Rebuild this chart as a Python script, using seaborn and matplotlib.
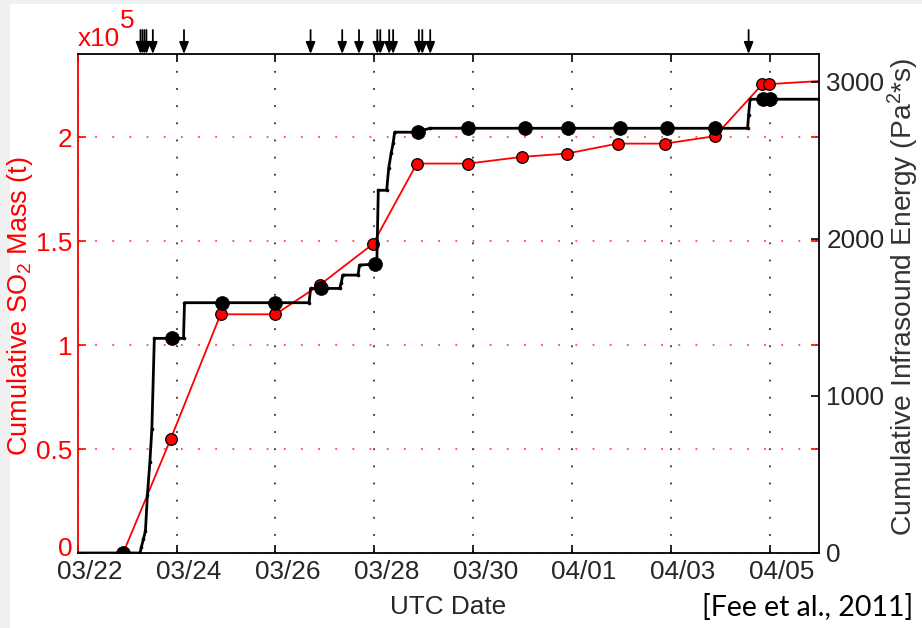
import matplotlib
matplotlib.use("Agg")
import matplotlib.pyplot as plt
import matplotlib.transforms as mtransforms
from matplotlib.patches import Rectangle
import pandas as pd
import seaborn as sns

# ---- data (time axis: days since 2009-03-22 00:00 UTC) ----
date_ticks = [0, 2, 4, 6, 8, 10, 12, 14]
date_labels = ["03/22", "03/24", "03/26", "03/28", "03/30", "04/01", "04/03", "04/05"]

# cumulative SO2 mass, in units of 1e5 t (satellite overpasses)
so2_days = [0.92, 1.88, 2.89, 4.00, 4.90, 5.97, 6.86, 7.90, 8.98, 9.89, 10.92, 11.88, 12.89, 13.85, 13.98]
so2_mass = [0.0, 0.548, 1.148, 1.148, 1.29, 1.486, 1.873, 1.873, 1.905, 1.921, 1.969, 1.969, 2.005, 2.255, 2.255]
so2_end_day = 15.0
so2_end_mass = 2.27

# cumulative infrasound energy trace (Pa^2*s)
ir_trace_days = [0.0, 1.26, 1.29, 1.33, 1.37, 1.41, 1.46, 1.50, 1.55, 2.14, 2.16, 4.68, 4.71,
                 5.30, 5.33, 5.36, 5.67, 5.70, 6.05, 6.08, 6.25, 6.29, 6.34, 6.38, 6.41,
                 6.90, 6.97, 7.13, 13.55, 13.57, 13.60, 15.0]
ir_trace_energy = [0, 0, 40, 90, 140, 370, 580, 790, 1367, 1367, 1594, 1594, 1685,
                   1685, 1720, 1770, 1770, 1834, 1840, 2310, 2310, 2450, 2546, 2610, 2680,
                   2680, 2692, 2705, 2705, 2791, 2890, 2890]

# infrasound energy sampled at the SO2 overpass times
ir_days = [0.92, 1.90, 2.92, 4.00, 4.92, 6.01, 6.88, 7.90, 9.04, 9.91, 10.96, 11.91, 12.90, 13.87, 14.00]
ir_energy = [0, 1367, 1594, 1594, 1685, 1840, 2680, 2705, 2705, 2705, 2705, 2705, 2709, 2890, 2890]

# explosive events
event_days = [1.27, 1.31, 1.35, 1.39, 1.52, 2.15, 4.71, 5.35, 5.69, 6.06, 6.12,
              6.30, 6.38, 6.90, 6.97, 7.13, 13.57]

so2_yticks = [0, 0.5, 1, 1.5, 2]
so2_ylabels = ["0", "0.5", "1", "1.5", "2"]
ir_yticks = [0, 1000, 2000, 3000]

# ---- style ----
sns.set_theme(style="white")
plt.rcParams["font.family"] = ["Liberation Sans", "DejaVu Sans"]
plt.rcParams["mathtext.fontset"] = "custom"
plt.rcParams["mathtext.rm"] = "Liberation Sans"
plt.rcParams["mathtext.it"] = "Liberation Sans:italic"

RED = "#ff0000"
TXT = "#262626"
FS = 18.8
FS_LAB = 19.5
DOT = (0, (1, 8.5))

fig = plt.figure(figsize=(9.22, 6.28), dpi=100)
fig.patch.set_facecolor("white")
# light slide margin on the top and left edges
fig.add_artist(Rectangle((0, 1 - 4 / 628), 1, 4 / 628, transform=fig.transFigure,
                         color="#f0f0f0", lw=0, zorder=-10))
fig.add_artist(Rectangle((0, 0), 10 / 922, 1, transform=fig.transFigure,
                         color="#f0f0f0", lw=0, zorder=-10))

W, H = 922, 628
x0, x1, y0, y1 = 77.7, 819.3, 54, 553
ax = fig.add_axes([x0 / W, 1 - y1 / H, (x1 - x0) / W, (y1 - y0) / H])
ax2 = ax.twinx()

# SO2 (left axis)
so2_line = pd.DataFrame({"day": so2_days + [so2_end_day], "mass": so2_mass + [so2_end_mass]})
so2_pts = pd.DataFrame({"day": so2_days, "mass": so2_mass})
sns.lineplot(data=so2_line, x="day", y="mass", ax=ax, color=RED, lw=1.3,
             sort=False, estimator=None, zorder=3)
sns.scatterplot(data=so2_pts, x="day", y="mass", ax=ax, color=RED, edgecolor="black",
                linewidth=0.9, s=70, zorder=4)

# infrasound (right axis)
ir_line = pd.DataFrame({"day": ir_trace_days, "energy": ir_trace_energy})
ir_pts = pd.DataFrame({"day": ir_days, "energy": ir_energy})
sns.lineplot(data=ir_line, x="day", y="energy", ax=ax2, color="black", lw=2.0,
             marker="o", markersize=2.6, markeredgewidth=0, sort=False, estimator=None, zorder=3)
sns.scatterplot(data=ir_pts, x="day", y="energy", ax=ax2, color="black", edgecolor="black",
                linewidth=0.5, s=100, zorder=4)

# axes limits and ticks
ax.set_xlim(0, 15)
ax.set_ylim(0, 2.4)
ax2.set_ylim(0, 3178)
ax.set_xticks(date_ticks)
ax.set_xticklabels(date_labels)
ax.set_yticks(so2_yticks)
ax.set_yticklabels(so2_ylabels)
ax2.set_yticks(ir_yticks)
ax2.set_yticklabels([str(v) for v in ir_yticks])

ax.tick_params(axis="x", direction="in", length=6, width=1.2, top=True, bottom=True,
               color="black", labelcolor=TXT, labelsize=FS, pad=5)
ax.tick_params(axis="y", direction="in", length=6, width=1.2, left=True, right=True,
               color=RED, labelcolor=RED, labelsize=FS, pad=4)
ax2.tick_params(axis="y", direction="in", length=6, width=1.2, right=True, left=False,
                color="black", labelcolor=TXT, labelsize=FS, pad=5)

# shift date labels slightly right of their ticks, and lift the zero of the SO2 axis
shift = mtransforms.ScaledTranslation(0.12, 0, fig.dpi_scale_trans)
for lab in ax.get_xticklabels():
    lab.set_transform(lab.get_transform() + shift)
lift = mtransforms.ScaledTranslation(0, 0.06, fig.dpi_scale_trans)
ax.get_yticklabels()[0].set_transform(ax.get_yticklabels()[0].get_transform() + lift)

# grids: dotted black verticals, dotted red horizontals
ax.grid(False)
ax2.grid(False)
ax.xaxis.grid(True, color="#333333", linestyle=DOT, lw=1.3)
ax.yaxis.grid(True, color=RED, alpha=0.7, linestyle=DOT, lw=1.3)
ax.set_axisbelow(True)

# spines
for s in ["top", "bottom"]:
    ax.spines[s].set_color("black")
    ax.spines[s].set_linewidth(1.3)
ax.spines["left"].set_color(RED)
ax.spines["left"].set_linewidth(1.3)
ax.spines["right"].set_visible(False)
for s in ["top", "bottom", "left"]:
    ax2.spines[s].set_visible(False)
ax2.spines["right"].set_color("black")
ax2.spines["right"].set_linewidth(1.3)

# labels
ax.set_xlabel("UTC Date", fontsize=FS, color=TXT)
ax.xaxis.label.set_va("center")
ax.xaxis.set_label_coords(0.5, (y1 - 607) / (y1 - y0))
ax.set_ylabel(r"Cumulative SO$_2$ Mass (t)", fontsize=FS_LAB, color=RED)
ax.yaxis.label.set_va("center")
ax.yaxis.set_label_coords((20 - x0) / (x1 - x0), (y1 - 306) / (y1 - y0))
ax2.set_ylabel(r"Cumulative Infrasound Energy (Pa$^2$*s)", fontsize=FS_LAB + 0.8, color="#333333")
ax2.yaxis.label.set_va("center")
ax2.yaxis.set_label_coords((903 - x0) / (x1 - x0), (y1 - 297) / (y1 - y0))

# scale factor of the left axis
fig.text(78 / W, 1 - 46 / H, "x10", color=RED, fontsize=FS, ha="left", va="baseline")
fig.text(120 / W, 1 - 28 / H, "5", color=RED, fontsize=FS, ha="left", va="baseline")

# event arrows above the top axis
for d in event_days:
    ax.annotate("", xy=(d, 1.0), xycoords=("data", "axes fraction"),
                xytext=(d, 1.0 + 24 / (y1 - y0)), textcoords=("data", "axes fraction"),
                arrowprops=dict(arrowstyle="-|>,head_length=0.5,head_width=0.2",
                                color="black", lw=1.3, mutation_scale=14,
                                shrinkA=0, shrinkB=0),
                annotation_clip=False)

# citation
fig.text(913 / W, 1 - 608 / H, "[Fee et al., 2011]", fontsize=20.5, color="black",
         ha="right", va="center", family=["Lato", "DejaVu Sans"])

fig.savefig("out.png", dpi=100)
